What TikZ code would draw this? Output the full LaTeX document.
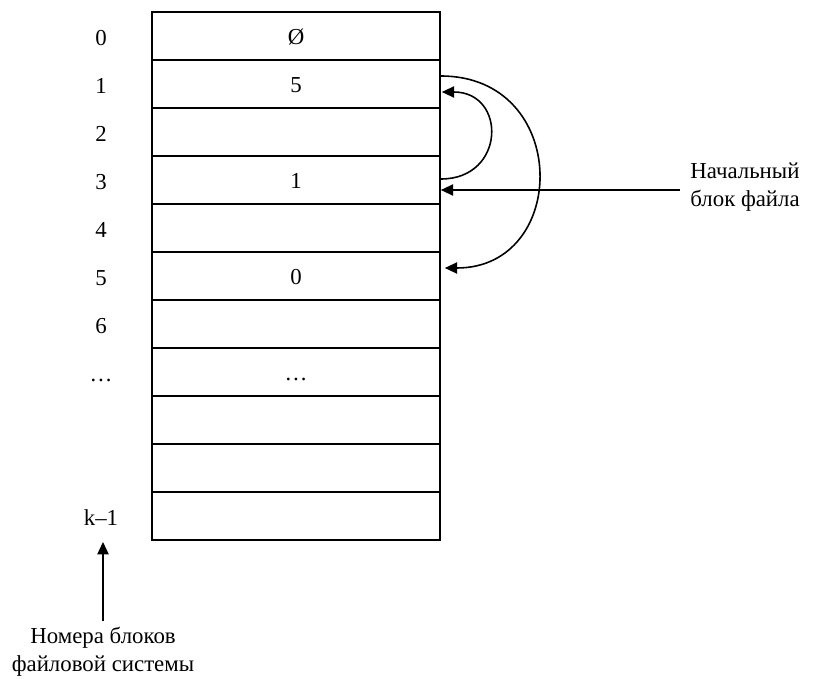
\documentclass[tikz,border=0pt]{standalone}
\usepackage{fontspec}
\setmainfont{Liberation Serif}
\usetikzlibrary{arrows.meta, positioning, calc}

\tikzset{
  blockcell/.style={draw, line width=1pt, minimum width=5.76cm, minimum height=0.96cm, inner sep=0pt, text height=1em, text depth=0pt, font=\fontsize{13}{15}\selectfont},
  blocknum/.style={text height=1em, text depth=0pt, font=\fontsize{13}{15}\selectfont},
  notelabel/.style={font=\fontsize{13}{16}\selectfont},
  linkarrow/.style={line width=0.9pt, -{Triangle[length=7pt, width=6.4pt]}},
}

\begin{document}
\begin{tikzpicture}[x=0.02cm, y=-0.02cm]
  \useasboundingbox (0,0) rectangle (821,679);
  % block table with its numbers
  \foreach \i/\val/\lab in {0/Ø/0, 1/5/1, 2//2, 3/1/3, 4//4, 5/0/5, 6//6, 7/…/…, 8//, 9//, 10//k–1} {
    \node[blockcell] (cell\i) at (296, {36+48*\i}) {\val};
    \node[blocknum] (num\i) at (101, {37+48*\i}) {\lab};
  }
  % chain of the file
  \draw[linkarrow] ($(cell3.east)+(0,-1)$) .. controls +(65,0) and +(65,0) .. ($(cell1.east)+(1,8)$);
  \draw[linkarrow] ($(cell1.east)+(0,-8)$) .. controls +(130,0) and +(125,0) .. ($(cell5.east)+(4,-8)$);
  % labels
  \node[notelabel, align=left, anchor=west, inner sep=0.2cm] (startlbl) at (680,187) {Начальный\\блок файла};
  \draw[linkarrow] ($(startlbl.west)+(0,3)$) -- ($(cell3.east)+(0,10)$);
  \node[notelabel, align=center] (numslbl) at (103,652) {Номера блоков\\файловой системы};
  \coordinate (numtip) at (103,542);
  \draw[linkarrow] (numslbl.north) -- (numtip);
\end{tikzpicture}
\end{document}
